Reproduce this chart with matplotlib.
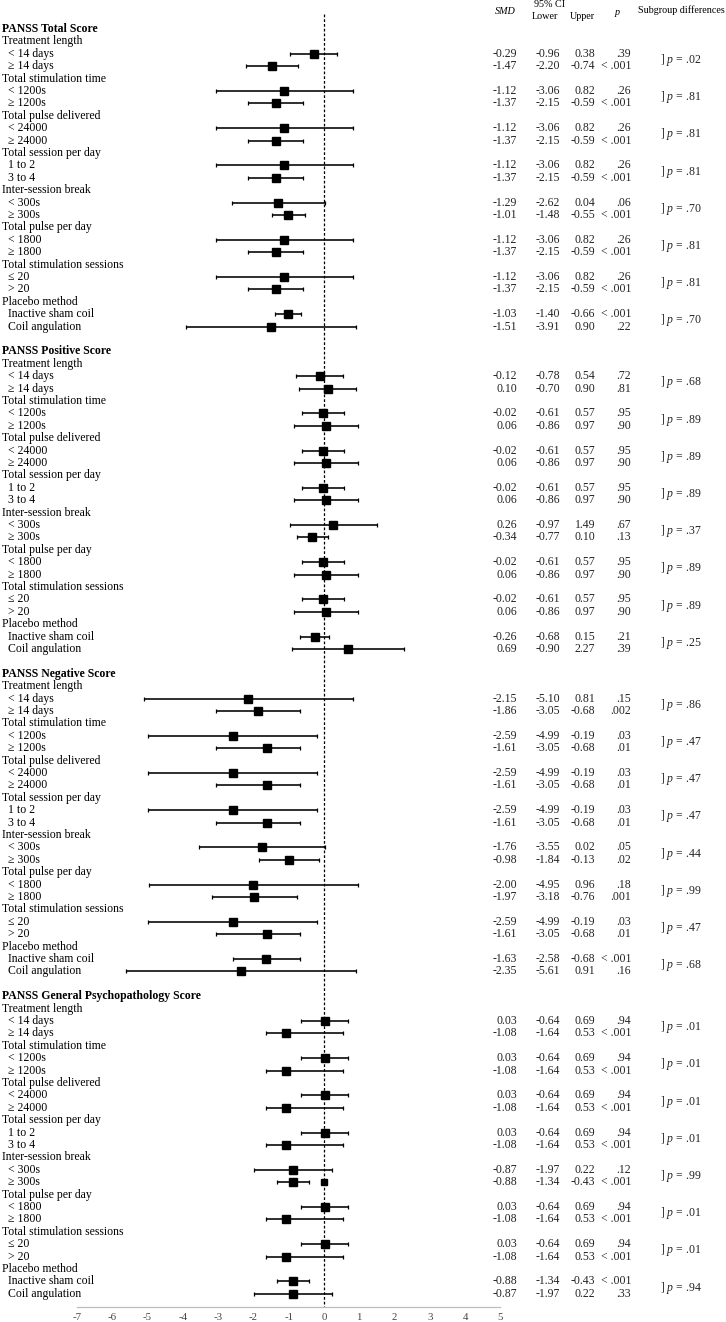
import matplotlib.pyplot as plt
from matplotlib.transforms import blended_transform_factory

plt.rcParams["font.family"] = ["Liberation Serif", "DejaVu Serif"]
plt.rcParams["mathtext.fontset"] = "custom"
plt.rcParams["mathtext.rm"] = "Liberation Serif"
plt.rcParams["mathtext.it"] = "Liberation Serif:italic"

sections = ["PANSS Total Score", "PANSS Positive Score",
            "PANSS Negative Score", "PANSS General Psychopathology Score"]
moderators = ["Treatment length", "Total stimulation time", "Total pulse delivered",
              "Total session per day", "Inter-session break", "Total pulse per day",
              "Total stimulation sessions", "Placebo method"]
levels = [["< 14 days", "\u2265 14 days"], ["< 1200s", "\u2265 1200s"],
          ["< 24000", "\u2265 24000"], ["1 to 2", "3 to 4"],
          ["< 300s", "\u2265 300s"], ["< 1800", "\u2265 1800"],
          ["\u2264 20", "> 20"], ["Inactive sham coil", "Coil angulation"]]

# PANSS Total
total_smd = [-0.29, -1.47, -1.12, -1.37, -1.12, -1.37, -1.12, -1.37,
             -1.29, -1.01, -1.12, -1.37, -1.12, -1.37, -1.03, -1.51]
total_lower = [-0.96, -2.20, -3.06, -2.15, -3.06, -2.15, -3.06, -2.15,
               -2.62, -1.48, -3.06, -2.15, -3.06, -2.15, -1.40, -3.91]
total_upper = [0.38, -0.74, 0.82, -0.59, 0.82, -0.59, 0.82, -0.59,
               0.04, -0.55, 0.82, -0.59, 0.82, -0.59, -0.66, 0.90]
total_p = [".39", "< .001", ".26", "< .001", ".26", "< .001", ".26", "< .001",
           ".06", "< .001", ".26", "< .001", ".26", "< .001", "< .001", ".22"]
total_diff = [".02", ".81", ".81", ".81", ".70", ".81", ".81", ".70"]

# PANSS Positive
pos_smd = [-0.12, 0.10, -0.02, 0.06, -0.02, 0.06, -0.02, 0.06,
           0.26, -0.34, -0.02, 0.06, -0.02, 0.06, -0.26, 0.69]
pos_lower = [-0.78, -0.70, -0.61, -0.86, -0.61, -0.86, -0.61, -0.86,
             -0.97, -0.77, -0.61, -0.86, -0.61, -0.86, -0.68, -0.90]
pos_upper = [0.54, 0.90, 0.57, 0.97, 0.57, 0.97, 0.57, 0.97,
             1.49, 0.10, 0.57, 0.97, 0.57, 0.97, 0.15, 2.27]
pos_p = [".72", ".81", ".95", ".90", ".95", ".90", ".95", ".90",
         ".67", ".13", ".95", ".90", ".95", ".90", ".21", ".39"]
pos_diff = [".68", ".89", ".89", ".89", ".37", ".89", ".89", ".25"]

# PANSS Negative
neg_smd = [-2.15, -1.86, -2.59, -1.61, -2.59, -1.61, -2.59, -1.61,
           -1.76, -0.98, -2.00, -1.97, -2.59, -1.61, -1.63, -2.35]
neg_lower = [-5.10, -3.05, -4.99, -3.05, -4.99, -3.05, -4.99, -3.05,
             -3.55, -1.84, -4.95, -3.18, -4.99, -3.05, -2.58, -5.61]
neg_upper = [0.81, -0.68, -0.19, -0.68, -0.19, -0.68, -0.19, -0.68,
             0.02, -0.13, 0.96, -0.76, -0.19, -0.68, -0.68, 0.91]
neg_p = [".15", ".002", ".03", ".01", ".03", ".01", ".03", ".01",
         ".05", ".02", ".18", ".001", ".03", ".01", "< .001", ".16"]
neg_diff = [".86", ".47", ".47", ".47", ".44", ".99", ".47", ".68"]

# PANSS General Psychopathology
gen_smd = [0.03, -1.08, 0.03, -1.08, 0.03, -1.08, 0.03, -1.08,
           -0.87, -0.88, 0.03, -1.08, 0.03, -1.08, -0.88, -0.87]
gen_lower = [-0.64, -1.64, -0.64, -1.64, -0.64, -1.64, -0.64, -1.64,
             -1.97, -1.34, -0.64, -1.64, -0.64, -1.64, -1.34, -1.97]
gen_upper = [0.69, 0.53, 0.69, 0.53, 0.69, 0.53, 0.69, 0.53,
             0.22, -0.43, 0.69, 0.53, 0.69, 0.53, -0.43, 0.22]
gen_p = [".94", "< .001", ".94", "< .001", ".94", "< .001", ".94", "< .001",
         ".12", "< .001", ".94", "< .001", ".94", "< .001", "< .001", ".33"]
gen_diff = [".01", ".01", ".01", ".01", ".99", ".01", ".01", ".94"]

# stray square drawn at 0 on the General "≥ 300s" row
gen_stray_x = [0.0]
gen_stray_item = [9]

x_ticks = [-7, -6, -5, -4, -3, -2, -1, 0, 1, 2, 3, 4, 5]

smd_all = [total_smd, pos_smd, neg_smd, gen_smd]
lower_all = [total_lower, pos_lower, neg_lower, gen_lower]
upper_all = [total_upper, pos_upper, neg_upper, gen_upper]
p_all = [total_p, pos_p, neg_p, gen_p]
diff_all = [total_diff, pos_diff, neg_diff, gen_diff]

W, H = 726, 1322
fig = plt.figure(figsize=(W / 100, H / 100), dpi=100)
ax = fig.add_axes([0, 0, 1, 1])
ax.set_axis_off()

# pixel geometry of the plot area
x0_px, unit_px = 324, 35.3
row0_px, row_px = 29, 12.4
ax.set_xlim(-x0_px / unit_px, (W - x0_px) / unit_px)
ax.set_ylim((H - row0_px) / row_px, -row0_px / row_px)

tr = blended_transform_factory(ax.transAxes, ax.transData)
fs = 8.5
hfs = 7.3
num_color = "#222222"


def px(x):
    return x / W


def row_of(s, m, k):
    return s * 26 + 2 + 3 * m + k


for s, name in enumerate(sections):
    base = s * 26
    ax.text(px(2), base, name, transform=tr, fontsize=fs, fontweight="bold",
            va="center", ha="left")
    for m, mod in enumerate(moderators):
        ax.text(px(2), base + 1 + 3 * m, mod, transform=tr, fontsize=fs,
                va="center", ha="left")
        for k in range(2):
            i = 2 * m + k
            r = row_of(s, m, k)
            ax.text(px(8), r, levels[m][k], transform=tr, fontsize=fs,
                    va="center", ha="left")
            est = smd_all[s][i]
            lo = lower_all[s][i]
            hi = upper_all[s][i]
            ax.errorbar([est], [r], xerr=[[est - lo], [hi - est]], fmt="s",
                        color="black", ms=5.2, elinewidth=1.15, capsize=1.7,
                        capthick=0.9, zorder=3)
            ax.text(px(517), r, f"{est:.2f}", transform=tr, fontsize=fs,
                    va="center", ha="right", color=num_color)
            ax.text(px(560), r, f"{lo:.2f}", transform=tr, fontsize=fs,
                    va="center", ha="right", color=num_color)
            ax.text(px(595), r, f"{hi:.2f}", transform=tr, fontsize=fs,
                    va="center", ha="right", color=num_color)
            ax.text(px(631), r, p_all[s][i], transform=tr, fontsize=fs,
                    va="center", ha="right", color=num_color)
        ax.text(px(660), row_of(s, m, 0) + 0.5, f"] $p$ = {diff_all[s][m]}",
                transform=tr, fontsize=fs, va="center", ha="left",
                color=num_color)

for x, i in zip(gen_stray_x, gen_stray_item):
    m, k = divmod(i, 2)
    ax.plot([x], [row_of(3, m, k)], "s", color="black", ms=4.2, zorder=3)

# zero reference line and axis
axis_r = (1307 - row0_px) / row_px
ax.plot([0, 0], [(14 - row0_px) / row_px, axis_r], color="black", lw=0.9,
        ls=(0, (2.2, 1.6)), zorder=2)
ax.plot([x_ticks[0], x_ticks[-1]], [axis_r, axis_r], color="#bdbdbd", lw=0.9)
tick_r = (1317 - row0_px) / row_px
for t in x_ticks:
    ax.text(t, tick_r, str(t), fontsize=7.8, ha="center", va="center",
            color="#444444")


# column headers
def hy(y):
    return (y - row0_px) / row_px


ax.text(px(505), hy(11), "SMD", transform=tr, fontsize=hfs, style="italic",
        ha="center", va="center")
ax.text(px(550), hy(4), "95% CI", transform=tr, fontsize=hfs,
        ha="center", va="center")
ax.text(px(545), hy(16), "Lower", transform=tr, fontsize=hfs,
        ha="center", va="center")
ax.text(px(582), hy(16), "Upper", transform=tr, fontsize=hfs,
        ha="center", va="center")
ax.text(px(617), hy(12), "p", transform=tr, fontsize=hfs, style="italic",
        ha="center", va="center")
ax.text(px(725), hy(10), "Subgroup differences", transform=tr, fontsize=hfs,
        ha="right", va="center")

fig.savefig("out.png", dpi=100)
plt.close(fig)
